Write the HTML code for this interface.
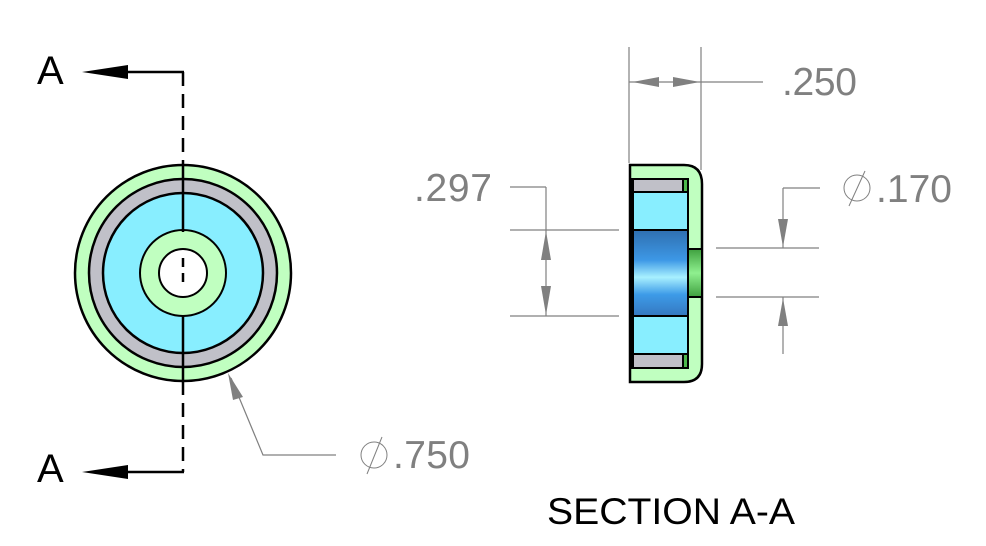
<!DOCTYPE html>
<html><head><meta charset="utf-8"><style>body{margin:0;background:#fff}svg{display:block}</style></head><body>
<svg width="986" height="546" viewBox="0 0 986 546" xmlns="http://www.w3.org/2000/svg">
<defs>
<linearGradient id="bg" x1="0" y1="0" x2="0" y2="1">
<stop offset="0" stop-color="#2f6fb0"/><stop offset="0.35" stop-color="#3d98e6"/><stop offset="0.55" stop-color="#a8f0ff"/><stop offset="0.75" stop-color="#3d9be8"/><stop offset="1" stop-color="#3578c0"/>
</linearGradient>
<linearGradient id="gg" x1="0" y1="0" x2="0" y2="1">
<stop offset="0" stop-color="#3fa03f"/><stop offset="0.5" stop-color="#8ff08f"/><stop offset="1" stop-color="#3fa03f"/>
</linearGradient>
</defs>
<!-- front view -->
<circle cx="183" cy="273" r="108" fill="#c0ffc0" stroke="#000" stroke-width="2.5"/>
<circle cx="183" cy="273" r="94" fill="#c0c0c8" stroke="#000" stroke-width="2.5"/>
<circle cx="183" cy="273" r="80" fill="#88eeff" stroke="#000" stroke-width="2.5"/>
<circle cx="183" cy="273" r="43" fill="#c0ffc0" stroke="#000" stroke-width="2"/>
<circle cx="183" cy="273" r="24" fill="#fff" stroke="#000" stroke-width="2"/>
<line x1="183" y1="165" x2="183" y2="232" stroke="#000" stroke-width="2.5"/>
<line x1="183" y1="315" x2="183" y2="381" stroke="#000" stroke-width="2.5"/>
<line x1="183" y1="72" x2="183" y2="165" stroke="#000" stroke-width="2.5" stroke-dasharray="14,8"/>
<line x1="183" y1="381" x2="183" y2="472" stroke="#000" stroke-width="2.5" stroke-dasharray="14,8"/>
<line x1="183" y1="258" x2="183" y2="288" stroke="#000" stroke-width="2.5" stroke-dasharray="9,6"/>
<line x1="126" y1="72" x2="184" y2="72" stroke="#000" stroke-width="2.5"/>
<line x1="126" y1="472" x2="184" y2="472" stroke="#000" stroke-width="2.5"/>
<polygon points="82,72 128,65 128,79" fill="#000"/>
<polygon points="82,472 128,465 128,479" fill="#000"/>
<text x="37" y="84" font-family="Liberation Sans, sans-serif" font-size="40" fill="#000">A</text>
<text x="37" y="482" font-family="Liberation Sans, sans-serif" font-size="40" fill="#000">A</text>
<!-- 750 leader -->
<polyline points="231,378 263,455 336,455" fill="none" stroke="#808080" stroke-width="1.2"/>
<polygon points="228,373 243,397 233,400" fill="#808080"/>
<circle cx="374" cy="455" r="13" fill="none" stroke="#808080" stroke-width="1"/>
<line x1="367" y1="474" x2="382" y2="437" stroke="#808080" stroke-width="1"/>
<text x="393" y="468" font-family="Liberation Sans, sans-serif" font-size="39" fill="#808080" textLength="77">.750</text>
<!-- section view -->
<path d="M630,165 H684 Q702,165 702,184 V364 Q702,382 684,382 H630 Z" fill="#c0ffc0" stroke="#000" stroke-width="2.5"/>
<rect x="630" y="179" width="58" height="189" fill="#4cb84c" stroke="#000" stroke-width="2"/>
<rect x="633" y="179" width="50" height="13" fill="#c0c0c8" stroke="#000" stroke-width="2"/>
<rect x="633" y="354" width="50" height="14" fill="#c0c0c8" stroke="#000" stroke-width="2"/>
<rect x="633" y="192" width="55" height="38" fill="#88eeff" stroke="#000" stroke-width="2"/>
<rect x="633" y="316" width="55" height="38" fill="#88eeff" stroke="#000" stroke-width="2"/>
<rect x="633" y="230" width="55" height="86" fill="url(#bg)" stroke="#000" stroke-width="2"/>
<rect x="688" y="249" width="14" height="48" fill="url(#gg)" stroke="#000" stroke-width="2"/>
<line x1="631" y1="179" x2="631" y2="368" stroke="#000" stroke-width="2.5"/>
<g stroke="#808080" stroke-width="1.2" fill="none">
<line x1="629" y1="47" x2="629" y2="163"/>
<line x1="701" y1="47" x2="701" y2="170"/>
<line x1="629" y1="82" x2="763" y2="82"/>
<line x1="510" y1="187" x2="546" y2="187"/>
<line x1="546" y1="187" x2="546" y2="316"/>
<line x1="510" y1="230" x2="619" y2="230"/>
<line x1="510" y1="316" x2="619" y2="316"/>
<line x1="716" y1="248" x2="819" y2="248"/>
<line x1="716" y1="297" x2="819" y2="297"/>
<line x1="783" y1="188" x2="820" y2="188"/>
<line x1="783" y1="188" x2="783" y2="248"/>
<line x1="783" y1="297" x2="783" y2="354"/>
</g>
<g fill="#808080">
<polygon points="632,82 659,77 659,87"/>
<polygon points="700,82 673,77 673,87"/>
<polygon points="546,231 541,260 551,260"/>
<polygon points="546,315 541,286 551,286"/>
<polygon points="783,247 778,219 788,219"/>
<polygon points="783,298 778,326 788,326"/>
</g>
<text x="782" y="95" font-family="Liberation Sans, sans-serif" font-size="39" fill="#808080" textLength="75">.250</text>
<text x="414" y="201" font-family="Liberation Sans, sans-serif" font-size="39" fill="#808080" textLength="78">.297</text>
<circle cx="857" cy="188" r="13" fill="none" stroke="#808080" stroke-width="1"/>
<line x1="849" y1="206" x2="865" y2="171" stroke="#808080" stroke-width="1"/>
<text x="876" y="202" font-family="Liberation Sans, sans-serif" font-size="39" fill="#808080" textLength="76">.170</text>
<text x="547" y="524" font-family="Liberation Sans, sans-serif" font-size="37" fill="#000" textLength="248" lengthAdjust="spacingAndGlyphs">SECTION A-A</text>
</svg>
</body></html>
